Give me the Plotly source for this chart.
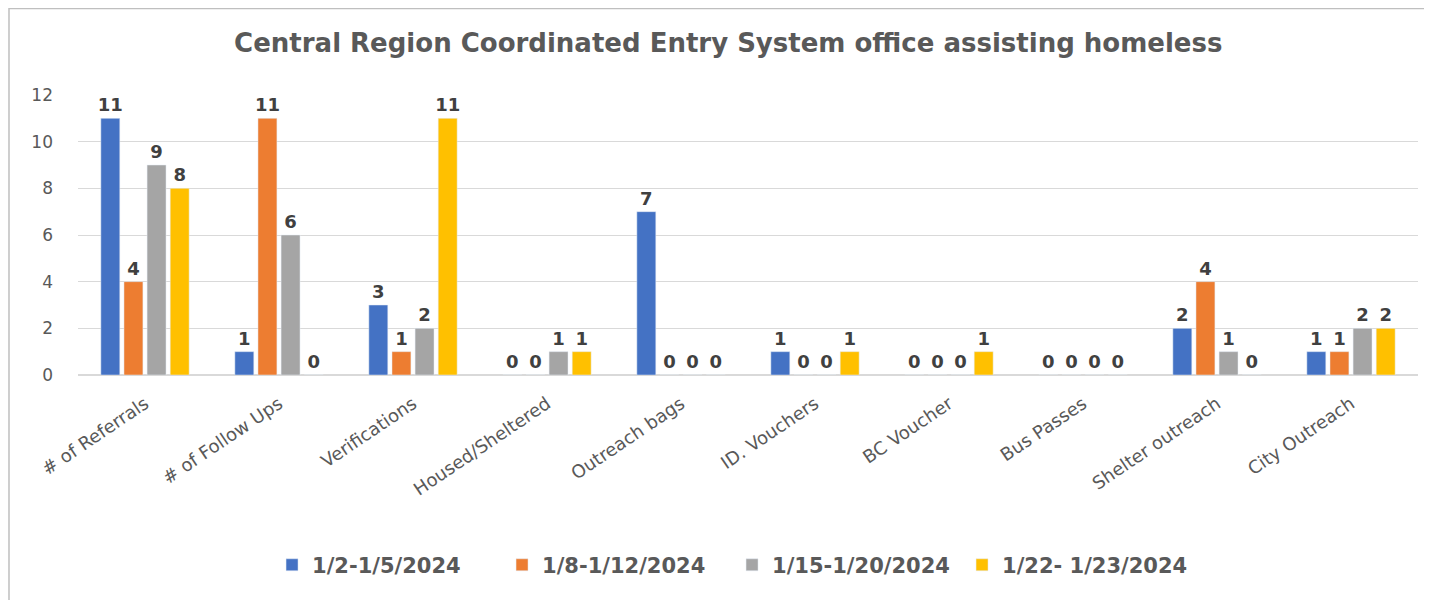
import plotly.graph_objects as go

categories = ["# of Referrals", "# of Follow Ups", "Verifications", "Housed/Sheltered",
              "Outreach bags", "ID. Vouchers", "BC Voucher", "Bus Passes",
              "Shelter outreach", "City Outreach"]
series_names = ["1/2-1/5/2024", "1/8-1/12/2024", "1/15-1/20/2024", "1/22- 1/23/2024"]
s1 = [11, 1, 3, 0, 7, 1, 0, 0, 2, 1]
s2 = [4, 11, 1, 0, 0, 0, 0, 0, 4, 1]
s3 = [9, 6, 2, 1, 0, 0, 0, 0, 1, 2]
s4 = [8, 0, 11, 1, 0, 1, 1, 0, 0, 2]
colors = ["#4472C4", "#ED7D31", "#A5A5A5", "#FFC000"]

fig = go.Figure()
for name, vals, col in zip(series_names, [s1, s2, s3, s4], colors):
    fig.add_trace(go.Bar(
        x=categories, y=vals, name=name, marker_color=col,
        text=[str(v) for v in vals], textposition="outside", cliponaxis=False,
        constraintext="none",
        textfont=dict(family="DejaVu Sans", size=18, color="#404040", weight="bold"),
    ))

fig.update_layout(
    width=1432, height=600,
    paper_bgcolor="white", plot_bgcolor="white",
    margin=dict(l=70, r=22, t=87, b=233),
    barmode="group", bargap=0.31, bargroupgap=0.18,
    title=dict(text="<b>Central Region Coordinated Entry System office assisting homeless</b>",
               x=0.503, xanchor="center", y=0.942, yanchor="middle",
               font=dict(family="DejaVu Sans", size=26, color="#595959")),
    font=dict(family="Open Sans", color="#595959"),
    showlegend=True,
    legend=dict(orientation="h", x=0.1448, xanchor="left", y=-0.679, yanchor="middle",
                font=dict(family="DejaVu Sans", size=21, color="#595959", weight="bold"),
                itemwidth=30, entrywidth=185, traceorder="normal"),
)
fig.update_yaxes(range=[0, 12], dtick=2, showgrid=True, gridcolor="#D9D9D9", gridwidth=1,
                 zeroline=True, zerolinecolor="#D9D9D9", showline=False, automargin=False,
                 tickfont=dict(family="DejaVu Sans", size=17, color="#595959"),
                 ticklabelstandoff=24)
fig.update_xaxes(tickangle=-34, showline=False, showgrid=False, automargin=False,
                 ticklabelstandoff=14,
                 tickfont=dict(family="DejaVu Sans", size=18, color="#595959"))

fig.add_shape(type="rect", xref="paper", yref="paper",
              x0=-0.0515, x1=1.2, y0=-1.2, y1=1.309,
              line=dict(color="#BFBFBF", width=1.5), fillcolor="rgba(0,0,0,0)", layer="below")

fig.write_html("out.html")
